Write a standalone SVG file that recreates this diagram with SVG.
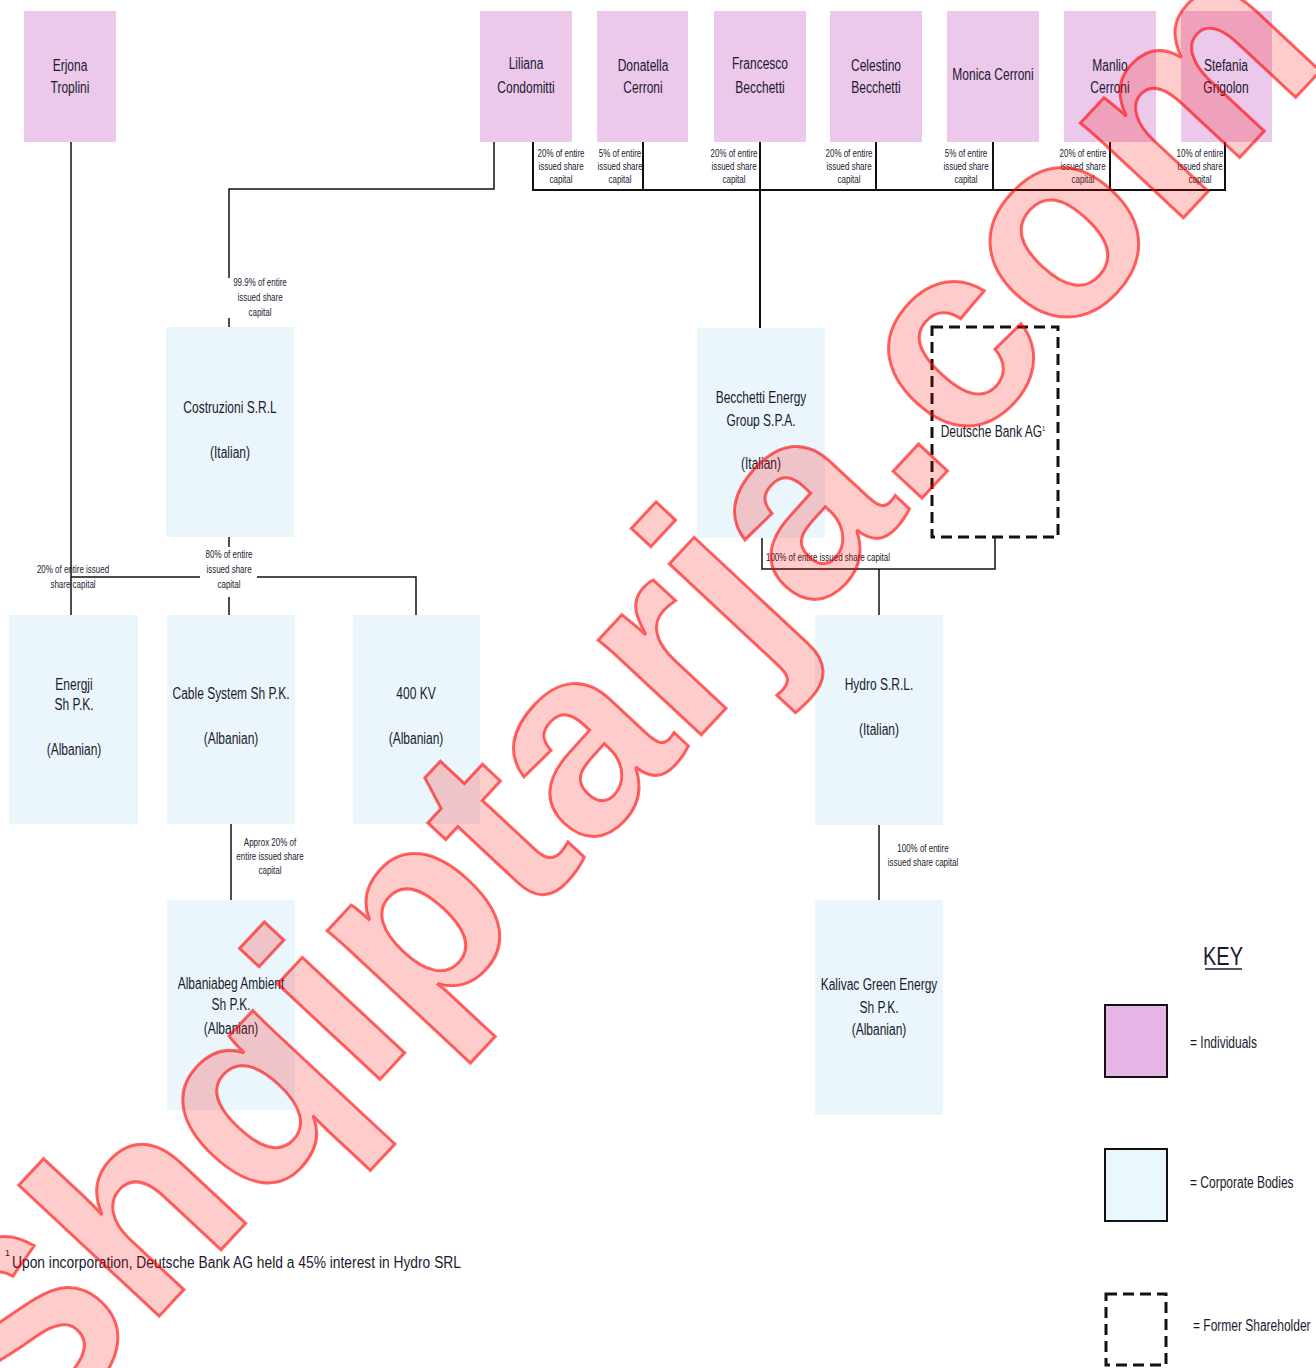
<svg xmlns="http://www.w3.org/2000/svg" width="1316" height="1368" viewBox="0 0 1316 1368">
<style>
text{font-family:"Liberation Sans",Arial,sans-serif;fill:#1a1a2e}
.n{font-size:16px;text-anchor:middle}
.s{font-size:10.5px;text-anchor:middle}
.k{font-size:16px}
.ind{fill:#ecc8ea}
.corp{fill:#eaf6fb}
.ln{stroke:#111;stroke-width:1.5;fill:none}
.wm{font-family:"Liberation Sans",Arial,sans-serif;font-weight:bold;font-size:265px;fill:#ff0000;fill-opacity:0.2;stroke:#ff0000;stroke-opacity:0.6;stroke-width:3}
</style>
<rect width="1316" height="1368" fill="#fff"/>

<g id="connectors">
<path class="ln" d="M71 142V615"/>
<path class="ln" d="M494 142V189H229V278M229 318V327"/>
<path class="ln" d="M533 142V190H1225V142M643 142V190M760 142V328M876 142V190M993 142V190M1110 142V190" style="stroke-width:2"/>
<path class="ln" d="M229 537V547M229 597V615M71 577H200M257 577H416V615"/>
<path class="ln" d="M231 824V900"/>
<path class="ln" d="M762 538V569H995V538M879 569V615"/>
<path class="ln" d="M879 825V900"/>
</g>

<g id="erjona"><rect class="ind" x="24" y="11" width="92" height="131"/><text class="n" transform="translate(70 71) scale(.75 1)">Erjona</text><text class="n" transform="translate(70 93) scale(.75 1)">Troplini</text></g>
<g id="liliana"><rect class="ind" x="480" y="11" width="92" height="131"/><text class="n" transform="translate(526 69) scale(.75 1)">Liliana</text><text class="n" transform="translate(526 93) scale(.75 1)">Condomitti</text></g>
<g id="donatella"><rect class="ind" x="597" y="11" width="91" height="131"/><text class="n" transform="translate(643 71) scale(.75 1)">Donatella</text><text class="n" transform="translate(643 93) scale(.75 1)">Cerroni</text></g>
<g id="francesco"><rect class="ind" x="714" y="11" width="92" height="131"/><text class="n" transform="translate(760 69) scale(.75 1)">Francesco</text><text class="n" transform="translate(760 93) scale(.75 1)">Becchetti</text></g>
<g id="celestino"><rect class="ind" x="830" y="11" width="92" height="131"/><text class="n" transform="translate(876 71) scale(.75 1)">Celestino</text><text class="n" transform="translate(876 93) scale(.75 1)">Becchetti</text></g>
<g id="monica"><rect class="ind" x="947" y="11" width="92" height="131"/><text class="n" transform="translate(993 80) scale(.75 1)">Monica Cerroni</text></g>
<g id="manlio"><rect class="ind" x="1064" y="11" width="92" height="131"/><text class="n" transform="translate(1110 71) scale(.75 1)">Manlio</text><text class="n" transform="translate(1110 93) scale(.75 1)">Cerroni</text></g>
<g id="stefania"><rect class="ind" x="1181" y="11" width="91" height="131"/><text class="n" transform="translate(1226 71) scale(.75 1)">Stefania</text><text class="n" transform="translate(1226 93) scale(.75 1)">Grigolon</text></g>

<g id="share-labels">
<text class="s" transform="translate(561 157) scale(.76 1)">20% of entire</text><text class="s" transform="translate(561 170) scale(.76 1)">issued share</text><text class="s" transform="translate(561 183) scale(.76 1)">capital</text>
<text class="s" transform="translate(620 157) scale(.76 1)">5% of entire</text><text class="s" transform="translate(620 170) scale(.76 1)">issued share</text><text class="s" transform="translate(620 183) scale(.76 1)">capital</text>
<text class="s" transform="translate(734 157) scale(.76 1)">20% of entire</text><text class="s" transform="translate(734 170) scale(.76 1)">issued share</text><text class="s" transform="translate(734 183) scale(.76 1)">capital</text>
<text class="s" transform="translate(849 157) scale(.76 1)">20% of entire</text><text class="s" transform="translate(849 170) scale(.76 1)">issued share</text><text class="s" transform="translate(849 183) scale(.76 1)">capital</text>
<text class="s" transform="translate(966 157) scale(.76 1)">5% of entire</text><text class="s" transform="translate(966 170) scale(.76 1)">issued share</text><text class="s" transform="translate(966 183) scale(.76 1)">capital</text>
<text class="s" transform="translate(1083 157) scale(.76 1)">20% of entire</text><text class="s" transform="translate(1083 170) scale(.76 1)">issued share</text><text class="s" transform="translate(1083 183) scale(.76 1)">capital</text>
<text class="s" transform="translate(1200 157) scale(.76 1)">10% of entire</text><text class="s" transform="translate(1200 170) scale(.76 1)">issued share</text><text class="s" transform="translate(1200 183) scale(.76 1)">capital</text>
<text class="s" transform="translate(260 286) scale(.76 1)">99.9% of entire</text><text class="s" transform="translate(260 301) scale(.76 1)">issued share</text><text class="s" transform="translate(260 316) scale(.76 1)">capital</text>
<text class="s" transform="translate(229 558) scale(.76 1)">80% of entire</text><text class="s" transform="translate(229 573) scale(.76 1)">issued share</text><text class="s" transform="translate(229 588) scale(.76 1)">capital</text>
<text class="s" transform="translate(73 573) scale(.76 1)">20% of entire issued</text><text class="s" transform="translate(73 588) scale(.76 1)">share capital</text>
<text class="s" transform="translate(766 561) scale(.76 1)" style="text-anchor:start">100% of entire issued share capital</text>
<text class="s" transform="translate(270 846) scale(.76 1)">Approx 20% of</text><text class="s" transform="translate(270 860) scale(.76 1)">entire issued share</text><text class="s" transform="translate(270 874) scale(.76 1)">capital</text>
<text class="s" transform="translate(923 852) scale(.76 1)">100% of entire</text><text class="s" transform="translate(923 866) scale(.76 1)">issued share capital</text>
</g>

<g id="costruzioni"><rect class="corp" x="166" y="327" width="128" height="210"/><text class="n" transform="translate(230 413) scale(.75 1)">Costruzioni S.R.L</text><text class="n" transform="translate(230 458) scale(.75 1)">(Italian)</text></g>
<g id="becchetti"><rect class="corp" x="697" y="328" width="128" height="210"/><text class="n" transform="translate(761 403) scale(.75 1)">Becchetti Energy</text><text class="n" transform="translate(761 426) scale(.75 1)">Group S.P.A.</text><text class="n" transform="translate(761 469) scale(.75 1)">(Italian)</text></g>
<g id="deutsche"><rect x="932" y="327" width="126" height="210" fill="none" stroke="#111" stroke-width="3" stroke-dasharray="11 6"/><text class="n" transform="translate(993 437) scale(.75 1)">Deutsche Bank AG<tspan dy="-6" font-size="8">1</tspan></text></g>
<g id="energji"><rect class="corp" x="9" y="615" width="129" height="209"/><text class="n" transform="translate(74 690) scale(.75 1)">Energji</text><text class="n" transform="translate(74 710) scale(.75 1)">Sh P.K.</text><text class="n" transform="translate(74 755) scale(.75 1)">(Albanian)</text></g>
<g id="cable"><rect class="corp" x="167" y="615" width="128" height="209"/><text class="n" transform="translate(231 699) scale(.75 1)">Cable System Sh P.K.</text><text class="n" transform="translate(231 744) scale(.75 1)">(Albanian)</text></g>
<g id="kv400"><rect class="corp" x="353" y="615" width="127" height="209"/><text class="n" transform="translate(416 699) scale(.75 1)">400 KV</text><text class="n" transform="translate(416 744) scale(.75 1)">(Albanian)</text></g>
<g id="hydro"><rect class="corp" x="815" y="615" width="128" height="210"/><text class="n" transform="translate(879 690) scale(.75 1)">Hydro S.R.L.</text><text class="n" transform="translate(879 735) scale(.75 1)">(Italian)</text></g>
<g id="albaniabeg"><rect class="corp" x="167" y="900" width="128" height="210"/><text class="n" transform="translate(231 989) scale(.75 1)">Albaniabeg Ambient</text><text class="n" transform="translate(231 1010) scale(.75 1)">Sh P.K.</text><text class="n" transform="translate(231 1034) scale(.75 1)">(Albanian)</text></g>
<g id="kalivac"><rect class="corp" x="815" y="900" width="128" height="215"/><text class="n" transform="translate(879 990) scale(.75 1)">Kalivac Green Energy</text><text class="n" transform="translate(879 1013) scale(.75 1)">Sh P.K.</text><text class="n" transform="translate(879 1035) scale(.75 1)">(Albanian)</text></g>

<g id="key">
<text transform="translate(1223 965) scale(.8 1)" style="font-size:25px;text-anchor:middle">KEY</text>
<line x1="1205" y1="969" x2="1242" y2="969" stroke="#1a1a2e" stroke-width="1.5"/>
<rect x="1105" y="1005" width="62" height="72" fill="#e8b6e6" stroke="#111" stroke-width="2"/>
<text class="k" transform="translate(1190 1048) scale(.75 1)">= Individuals</text>
<rect x="1105" y="1149" width="62" height="72" fill="#e9f8fc" stroke="#111" stroke-width="2"/>
<text class="k" transform="translate(1190 1188) scale(.75 1)">= Corporate Bodies</text>
<rect x="1106" y="1294" width="60" height="71" fill="none" stroke="#111" stroke-width="3" stroke-dasharray="11 6"/>
<text class="k" transform="translate(1193 1331) scale(.75 1)">= Former Shareholder</text>
</g>

<g id="footnote"><text x="5" y="1256" style="font-size:9px">1</text><text x="12" y="1268" style="font-size:16px" textLength="449" lengthAdjust="spacingAndGlyphs">Upon incorporation, Deutsche Bank AG held a 45% interest in Hydro SRL</text></g>

<g id="watermark"><text class="wm" transform="translate(26 1459) rotate(-47)">Shqiptarja.com</text></g>
</svg>
